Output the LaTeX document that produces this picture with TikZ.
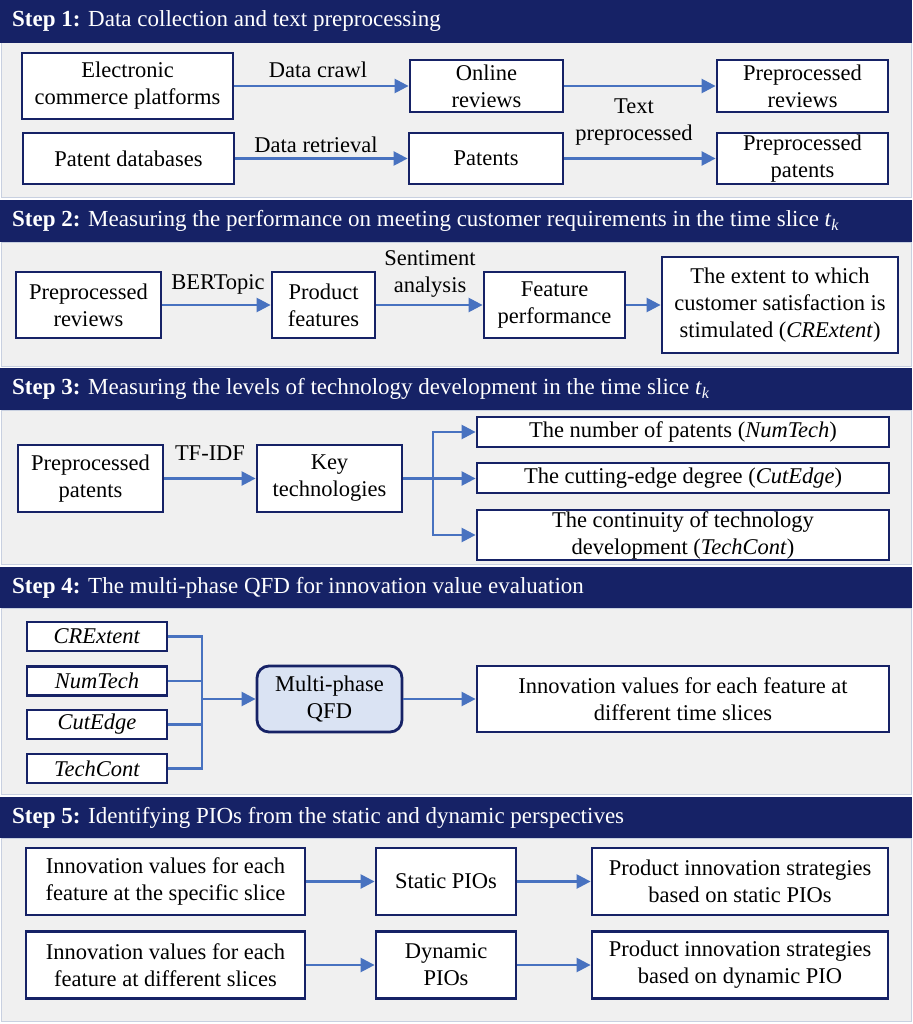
\documentclass[tikz,border=0pt]{standalone}
\usepackage{fontspec}
\setmainfont{Liberation Serif}
\usetikzlibrary{arrows.meta,positioning,calc}

\definecolor{navy}{RGB}{22,34,102}
\definecolor{arrblue}{RGB}{72,114,192}
\definecolor{panelgray}{RGB}{240,240,240}
\definecolor{panelline}{RGB}{200,208,224}
\definecolor{qfdblue}{RGB}{218,227,243}

\tikzset{
    box/.style={draw=navy, line width=2.8pt, fill=white, align=center, inner sep=0pt,
        font=\fontsize{22.5}{27}\selectfont},
    lbl/.style={align=center, inner sep=0pt, font=\fontsize{22.5}{27}\selectfont},
    conn/.style={draw=arrblue, line width=2.4pt},
    arr/.style={conn, -{Triangle[length=14pt,width=14pt]}},
    panel/.style={fill=panelgray, draw=panelline, line width=1pt},
    hdr/.style={anchor=west, text=white, inner sep=0pt, font=\fontsize{23}{27}\selectfont}
}

\begin{document}
\begin{tikzpicture}[x=1pt,y=-1pt]
    \useasboundingbox (0,0) rectangle (912,1024);

    % Step 1
    \begin{scope}
        \draw[panel] (1,43) rectangle (911,198);
        \fill[navy] (0,0) rectangle (912,43);
        \node[hdr] (h1) at (12,21.5) {\textbf{Step 1:} Data collection and text preprocessing};

        \node[box, minimum width=211, minimum height=66] (ecp) at (127.5,86) {Electronic\\commerce platforms};
        \node[box, minimum width=153, minimum height=52] (online) at (486.5,86) {Online\\reviews};
        \node[box, minimum width=171, minimum height=52] (prerev) at (802.5,86) {Preprocessed\\reviews};
        \node[box, minimum width=211, minimum height=51] (patdb) at (128.5,158.5) {Patent databases};
        \node[box, minimum width=154, minimum height=51] (patents) at (486,158.5) {Patents};
        \node[box, minimum width=171, minimum height=51] (prepat) at (802.5,158.5) {Preprocessed\\patents};

        \node[lbl] (crawl) at (318,70) {Data crawl};
        \node[lbl] (retr) at (316,145) {Data retrieval};
        \node[lbl] (textpre) at (634,122) {Text\\preprocessed};

        \draw[arr] (ecp) -- (online);
        \draw[arr] (patdb) -- (patents);
        \draw[arr] (online) -- (prerev);
        \draw[arr] (patents) -- (prepat);
    \end{scope}

    % Step 2
    \begin{scope}
        \draw[panel] (1,242) rectangle (911,366);
        \fill[navy] (0,200) rectangle (912,242);
        \node[hdr] (h2) at (12,221) {\textbf{Step 2:} Measuring the performance on meeting customer requirements in the time slice \textit{t}\textsubscript{\textit{k}}};

        \node[box, minimum width=145, minimum height=66] (prerevb) at (88.5,305) {Preprocessed\\reviews};
        \node[box, minimum width=103, minimum height=66] (feat) at (323.5,305) {Product\\features};
        \node[box, minimum width=141, minimum height=66] (perf) at (554.5,305) {Feature\\performance};
        \node[box, minimum width=236, minimum height=96] (extent) at (780,305) {The extent to which\\customer satisfaction is\\stimulated (\textit{CRExtent})};

        \node[lbl] (bert) at (218,284) {BERTopic};
        \node[lbl] (senti) at (430,274) {Sentiment\\analysis};

        \draw[arr] (prerevb) -- (feat);
        \draw[arr] (feat) -- (perf);
        \draw[arr] (perf) -- (extent);
    \end{scope}

    % Step 3
    \begin{scope}
        \draw[panel] (1,410) rectangle (911,564);
        \fill[navy] (0,368) rectangle (912,410);
        \node[hdr] (h3) at (12,389) {\textbf{Step 3:} Measuring the levels of technology development in the time slice \textit{t}\textsubscript{\textit{k}}};

        \node[box, minimum width=145, minimum height=67] (prepatb) at (90.5,478.5) {Preprocessed\\patents};
        \node[box, minimum width=145, minimum height=67] (keytech) at (329.5,478.5) {Key\\technologies};
        \node[box, minimum width=412, minimum height=30] (numpat) at (683,432) {The number of patents (\textit{NumTech})};
        \node[box, minimum width=412, minimum height=30] (cutedge) at (683,478) {The cutting-edge degree (\textit{CutEdge})};
        \node[box, minimum width=412, minimum height=50] (contin) at (683,535) {The continuity of technology\\development (\textit{TechCont})};

        \node[lbl] (tfidf) at (210,453) {TF-IDF};

        \draw[arr] (prepatb) -- (keytech);
        \coordinate (br) at (433,478.5);
        \draw[conn] (keytech.east) -- (br);
        \draw[arr] (br) |- (numpat.west);
        \draw[arr] (br) -- (cutedge.west |- br);
        \draw[arr] (br) |- (contin.west);
    \end{scope}

    % Step 4
    \begin{scope}
        \draw[panel] (1,608) rectangle (911,794);
        \fill[navy] (0,567) rectangle (912,608);
        \node[hdr] (h4) at (12,587.5) {\textbf{Step 4:} The multi-phase QFD for innovation value evaluation};

        \node[box, minimum width=140, minimum height=29] (crext) at (97,636.5) {\textit{CRExtent}};
        \node[box, minimum width=140, minimum height=29] (numtech) at (97,681) {\textit{NumTech}};
        \node[box, minimum width=140, minimum height=29] (cutedg) at (97,724.5) {\textit{CutEdge}};
        \node[box, minimum width=140, minimum height=29] (techcont) at (97,768.5) {\textit{TechCont}};
        \node[box, fill=qfdblue, rounded corners=12pt, minimum width=145, minimum height=66] (qfd) at (329.5,699) {Multi-phase\\QFD};
        \node[box, minimum width=412, minimum height=66] (innov) at (683,699) {Innovation values for each feature at\\different time slices};

        \coordinate (mg) at (202,699);
        \foreach \n in {crext,numtech,cutedg,techcont}
            \draw[conn] (\n.east) -| (mg);
        \draw[arr] (mg) -- (qfd);
        \draw[arr] (qfd) -- (innov);
    \end{scope}

    % Step 5
    \begin{scope}
        \draw[panel] (1,838) rectangle (911,1021);
        \fill[navy] (0,797) rectangle (912,838);
        \node[hdr] (h5) at (12,817.5) {\textbf{Step 5:} Identifying PIOs from the static and dynamic perspectives};

        \node[box, minimum width=279, minimum height=67] (ivs) at (165.5,881.5) {Innovation values for each\\feature at the specific slice};
        \node[box, minimum width=140, minimum height=67] (spio) at (446,881.5) {Static PIOs};
        \node[box, minimum width=296, minimum height=67] (sstrat) at (740,881.5) {Product innovation strategies\\based on static PIOs};
        \node[box, minimum width=279, minimum height=67] (ivd) at (165.5,965) {Innovation values for each\\feature at different slices};
        \node[box, minimum width=140, minimum height=67] (dpio) at (446,965) {Dynamic\\PIOs};
        \node[box, minimum width=296, minimum height=67] (dstrat) at (740,965) {Product innovation strategies\\based on dynamic PIO};

        \draw[arr] (ivs) -- (spio);
        \draw[arr] (spio) -- (sstrat);
        \draw[arr] (ivd) -- (dpio);
        \draw[arr] (dpio) -- (dstrat);
    \end{scope}
\end{tikzpicture}
\end{document}
